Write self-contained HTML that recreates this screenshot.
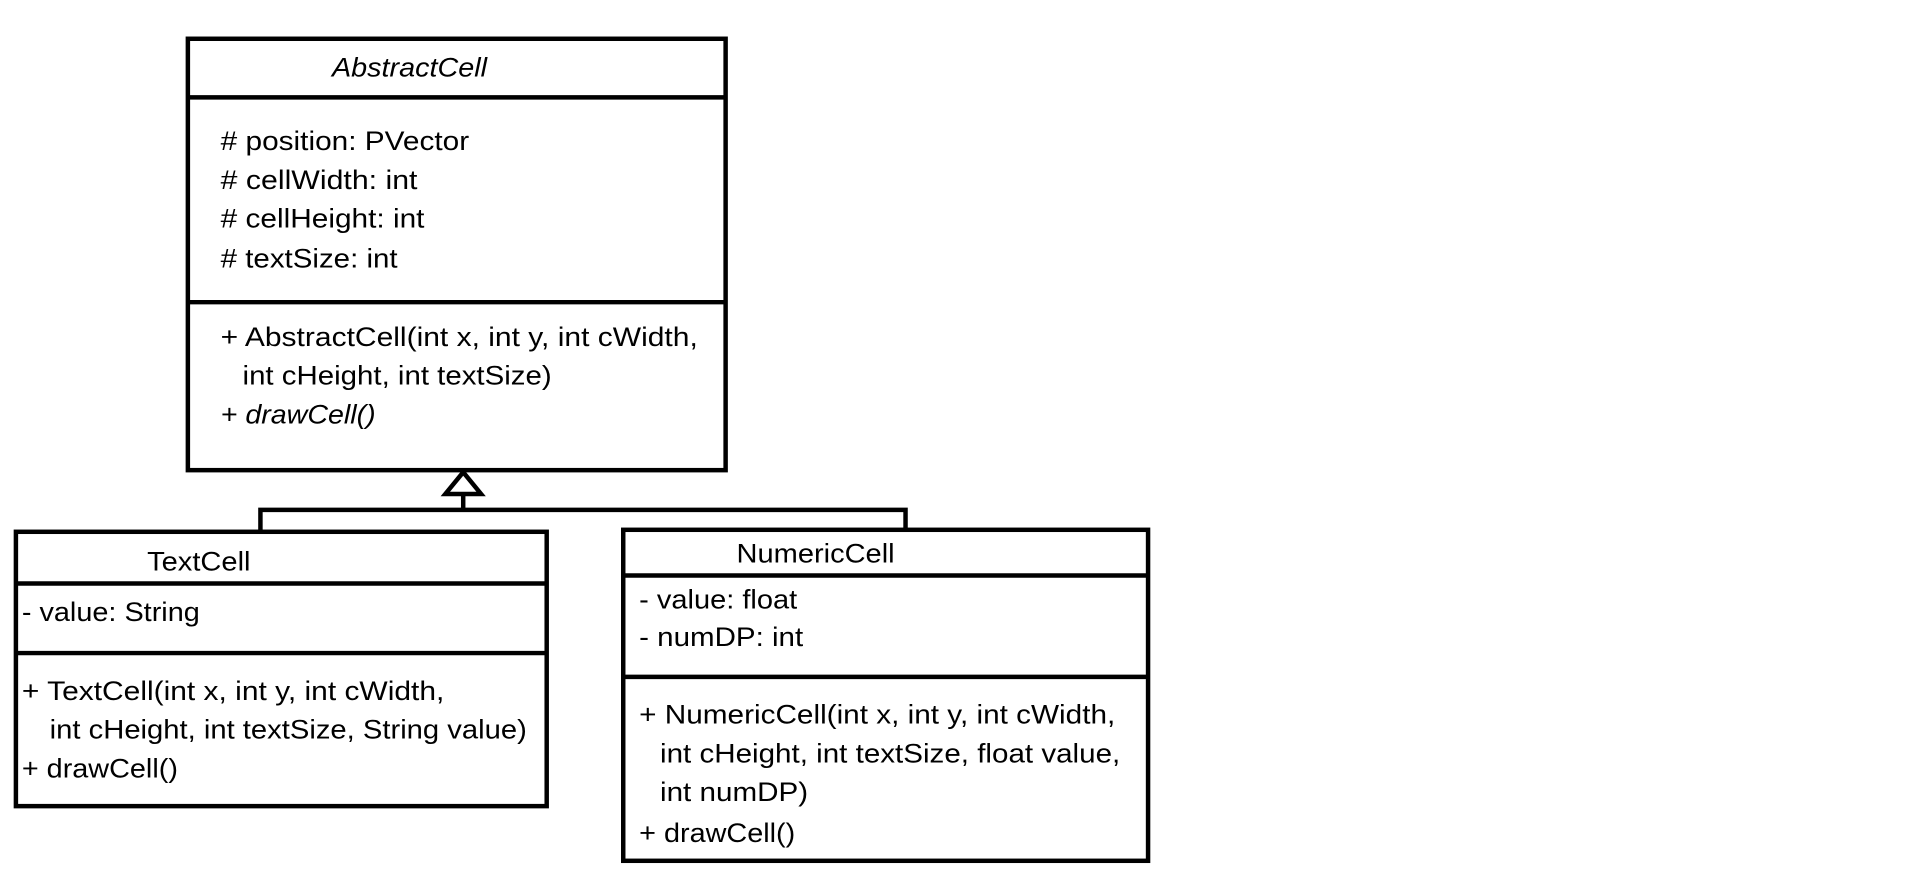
<!DOCTYPE html>
<html><head><meta charset="utf-8"><style>
html,body{margin:0;padding:0;background:#fff;}
svg{display:block;}
text{font-family:"Liberation Sans",sans-serif;font-size:27px;fill:#000;}
</style></head><body>
<svg width="1911" height="869" viewBox="0 0 1911 869" xmlns="http://www.w3.org/2000/svg">
<g transform="scale(0.994)">
<g fill="none" stroke="#000" stroke-width="4.5">
<rect x="189" y="39" width="541" height="434"/>
<line x1="189" y1="98" x2="730" y2="98"/>
<line x1="189" y1="304" x2="730" y2="304"/>
<rect x="16" y="535" width="534" height="276"/>
<line x1="16" y1="587" x2="550" y2="587"/>
<line x1="16" y1="657" x2="550" y2="657"/>
<rect x="627" y="533" width="528" height="333"/>
<line x1="627" y1="579" x2="1155" y2="579"/>
<line x1="627" y1="681" x2="1155" y2="681"/>
<polygon points="466,475 448,497 484,497"/>
<line x1="466" y1="497" x2="466" y2="513"/>
<polyline points="262,535 262,513 911,513 911,533"/>
</g>
<text x="334" y="77" textLength="156" lengthAdjust="spacingAndGlyphs" font-style="italic">AbstractCell</text>
<text x="222" y="151" textLength="250" lengthAdjust="spacingAndGlyphs"># position: PVector</text>
<text x="222" y="190" textLength="198" lengthAdjust="spacingAndGlyphs"># cellWidth: int</text>
<text x="222" y="229" textLength="205" lengthAdjust="spacingAndGlyphs"># cellHeight: int</text>
<text x="222" y="269" textLength="178" lengthAdjust="spacingAndGlyphs"># textSize: int</text>
<text x="222" y="348" textLength="480" lengthAdjust="spacingAndGlyphs">+ AbstractCell(int x, int y, int cWidth,</text>
<text x="244" y="387" textLength="311" lengthAdjust="spacingAndGlyphs">int cHeight, int textSize)</text>
<text x="222" y="426" textLength="156" lengthAdjust="spacingAndGlyphs" font-style="italic">+ drawCell()</text>
<text x="148" y="574" textLength="104" lengthAdjust="spacingAndGlyphs">TextCell</text>
<text x="22" y="625" textLength="179" lengthAdjust="spacingAndGlyphs">- value: String</text>
<text x="22" y="704" textLength="425" lengthAdjust="spacingAndGlyphs">+ TextCell(int x, int y, int cWidth,</text>
<text x="50" y="743" textLength="480" lengthAdjust="spacingAndGlyphs">int cHeight, int textSize, String value)</text>
<text x="22" y="782" textLength="157" lengthAdjust="spacingAndGlyphs">+ drawCell()</text>
<text x="741" y="566" textLength="159" lengthAdjust="spacingAndGlyphs">NumericCell</text>
<text x="643" y="612" textLength="159" lengthAdjust="spacingAndGlyphs">- value: float</text>
<text x="643" y="650" textLength="165" lengthAdjust="spacingAndGlyphs">- numDP: int</text>
<text x="643" y="728" textLength="479" lengthAdjust="spacingAndGlyphs">+ NumericCell(int x, int y, int cWidth,</text>
<text x="664" y="767" textLength="463" lengthAdjust="spacingAndGlyphs">int cHeight, int textSize, float value,</text>
<text x="664" y="806" textLength="149" lengthAdjust="spacingAndGlyphs">int numDP)</text>
<text x="643" y="847" textLength="157" lengthAdjust="spacingAndGlyphs">+ drawCell()</text>
</g>
</svg>
</body></html>
